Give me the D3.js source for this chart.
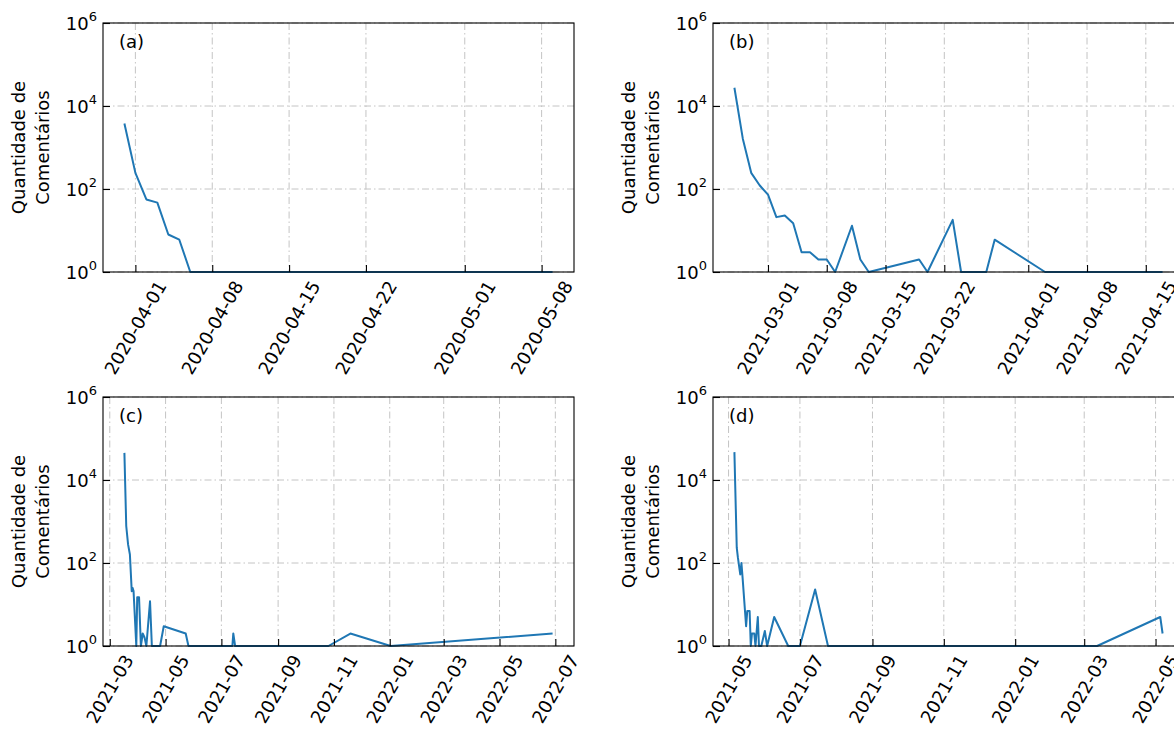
<!DOCTYPE html>
<html>
<head>
<meta charset="utf-8">
<script src="https://cdn.jsdelivr.net/npm/d3@7"></script>
<style>
  body { margin: 0; background: #fff; }
  svg { display: block; font-family: "DejaVu Sans", sans-serif; }
</style>
</head>
<body>
<svg id="chart" width="1174" height="729"></svg>
<script>
// ---------------- DATA ----------------
const panelLabels = ["(a)", "(b)", "(c)", "(d)"];
const yLabelLines = ["Quantidade de", "Comentários"];
const yTickValues = [1, 1e2, 1e4, 1e6];
const yTickExponents = ["0", "2", "4", "6"];

const datesA = ["2020-03-31","2020-04-01","2020-04-02","2020-04-03","2020-04-04","2020-04-05","2020-04-06","2020-05-09"];
const valuesA = [3800, 245, 56, 47, 8, 6, 1, 1];
const ticksA = ["2020-04-01","2020-04-08","2020-04-15","2020-04-22","2020-05-01","2020-05-08"];

const datesB = ["2021-02-25","2021-02-26","2021-02-27","2021-02-28","2021-03-01","2021-03-02","2021-03-03","2021-03-04","2021-03-05","2021-03-06","2021-03-07","2021-03-08","2021-03-09","2021-03-11","2021-03-12","2021-03-13","2021-03-19","2021-03-20","2021-03-23","2021-03-24","2021-03-27","2021-03-28","2021-04-03","2021-04-17"];
const valuesB = [27500, 1630, 245, 123, 73, 21, 23, 15, 3, 3, 2, 2, 1, 13, 2, 1, 2, 1, 18, 1, 1, 6, 1, 1];
const ticksB = ["2021-03-01","2021-03-08","2021-03-15","2021-03-22","2021-04-01","2021-04-08","2021-04-15"];

const datesC = ["2021-03-17","2021-03-19","2021-03-21","2021-03-23","2021-03-25","2021-03-26","2021-03-27","2021-03-30","2021-03-31","2021-04-02","2021-04-04","2021-04-06","2021-04-08","2021-04-10","2021-04-14","2021-04-16","2021-04-25","2021-04-29","2021-05-23","2021-05-26","2021-07-13","2021-07-14","2021-07-16","2021-10-26","2021-11-19","2022-01-02","2022-06-28"];
const valuesC = [45000, 780, 280, 160, 21, 25, 21, 1, 15, 15, 1, 2, 1.6, 1, 12, 1, 1, 3, 2, 1, 1, 2, 1, 1, 2, 1, 2];
const ticksC = ["2021-03-01","2021-05-01","2021-07-01","2021-09-01","2021-11-01","2022-01-01","2022-03-01","2022-05-01","2022-07-01"];

const datesD = ["2021-05-06","2021-05-08","2021-05-09","2021-05-11","2021-05-12","2021-05-13","2021-05-16","2021-05-17","2021-05-19","2021-05-20","2021-05-21","2021-05-23","2021-05-24","2021-05-26","2021-05-27","2021-05-29","2021-06-01","2021-06-03","2021-06-09","2021-06-21","2021-07-01","2021-07-14","2021-07-25","2022-03-12","2022-05-05","2022-05-07"];
const valuesD = [47000, 234, 134, 53, 100, 44, 3, 7, 7, 1, 2, 2, 1, 5, 1, 1, 2.3, 1, 5, 1, 1, 23, 1, 1, 5, 2];
const ticksD = ["2021-05-01","2021-07-01","2021-09-01","2021-11-01","2022-01-01","2022-03-01","2022-05-01"];

// ---------------- LAYOUT ----------------
const parse = d3.utcParse("%Y-%m-%d");
const panels = [
  { label: panelLabels[0], dates: datesA, values: valuesA, ticks: ticksA, fmt: "%Y-%m-%d", left: 103, top: 23 },
  { label: panelLabels[1], dates: datesB, values: valuesB, ticks: ticksB, fmt: "%Y-%m-%d", left: 713, top: 23 },
  { label: panelLabels[2], dates: datesC, values: valuesC, ticks: ticksC, fmt: "%Y-%m", left: 103, top: 397 },
  { label: panelLabels[3], dates: datesD, values: valuesD, ticks: ticksD, fmt: "%Y-%m", left: 713, top: 397 }
];
const W = 471, H = 249;
const FONT = 18;

const svg = d3.select("#chart");

panels.forEach(p => {
  const g = svg.append("g").attr("transform", `translate(${p.left},${p.top})`);
  const pts = p.dates.map((d, i) => ({ x: parse(d), y: p.values[i] }));
  const ext = d3.extent(pts, d => d.x);
  const span = ext[1] - ext[0];
  const x = d3.scaleUtc()
    .domain([new Date(+ext[0] - 0.05 * span), new Date(+ext[1] + 0.05 * span)])
    .range([0, W]);
  const y = d3.scaleLog().domain([1, 1e6]).range([H, 0]);
  const tickDates = p.ticks.map(parse);

  // grid
  const grid = g.append("g").attr("stroke", "#c4c4c4").attr("stroke-width", 1)
    .attr("stroke-dasharray", "7,3,1.5,3").attr("fill", "none");
  tickDates.forEach(t => {
    grid.append("line").attr("x1", x(t)).attr("x2", x(t)).attr("y1", 0).attr("y2", H);
  });
  yTickValues.forEach(v => {
    grid.append("line").attr("x1", 0).attr("x2", W).attr("y1", y(v)).attr("y2", y(v));
  });

  // line
  const line = d3.line().x(d => x(d.x)).y(d => y(d.y));
  g.append("path").datum(pts).attr("d", line)
    .attr("fill", "none").attr("stroke", "#1f77b4").attr("stroke-width", 2)
    .attr("stroke-linejoin", "round");

  // x axis (ticks inward)
  const xAxis = d3.axisBottom(x).tickValues(tickDates).tickSizeInner(-7).tickSizeOuter(0).tickFormat(() => "");
  const xg = g.append("g").attr("transform", `translate(0,${H})`).call(xAxis);
  xg.select(".domain").remove();
  xg.selectAll(".tick line").attr("stroke", "#000").attr("stroke-width", 1.1);

  // x tick labels rotated 60 deg, centered on tick
  const fmt = d3.utcFormat(p.fmt);
  tickDates.forEach(t => {
    const txt = g.append("text")
      .attr("font-size", FONT).attr("fill", "#000")
      .attr("text-anchor", "middle").attr("dominant-baseline", "central")
      .text(fmt(t));
    const L = txt.node().getComputedTextLength();
    const h = FONT * 1.17;
    const bh = L * Math.sin(Math.PI / 3) + h * Math.cos(Math.PI / 3);
    txt.attr("transform", `translate(${x(t)},${H + 5 + bh / 2}) rotate(-60)`);
  });

  // y axis ticks inward
  const yAxis = d3.axisLeft(y).tickValues(yTickValues).tickSizeInner(-7).tickSizeOuter(0).tickFormat(() => "");
  const yg = g.append("g").call(yAxis);
  yg.select(".domain").remove();
  yg.selectAll(".tick line").attr("stroke", "#000").attr("stroke-width", 1.1);
  yTickValues.forEach((v, i) => {
    const t = g.append("text").attr("x", -6).attr("y", y(v) + 7)
      .attr("text-anchor", "end").attr("font-size", FONT).attr("fill", "#000");
    t.append("tspan").text("10");
    t.append("tspan").attr("font-size", 13).attr("dy", -9).text(yTickExponents[i]);
  });

  // frame
  g.append("rect").attr("x", 0).attr("y", 0).attr("width", W).attr("height", H)
    .attr("fill", "none").attr("stroke", "#000").attr("stroke-width", 1.1);

  // panel label
  g.append("text").attr("x", 16).attr("y", 25).attr("font-size", FONT).attr("fill", "#000").text(p.label);

  // y label
  const yl = g.append("text").attr("transform", `translate(-71,${H / 2}) rotate(-90)`)
    .attr("text-anchor", "middle").attr("font-size", FONT).attr("fill", "#000");
  yl.append("tspan").attr("x", 0).attr("dy", "-0.4em").text(yLabelLines[0]);
  yl.append("tspan").attr("x", 0).attr("dy", 24).text(yLabelLines[1]);
});
</script>
</body>
</html>
